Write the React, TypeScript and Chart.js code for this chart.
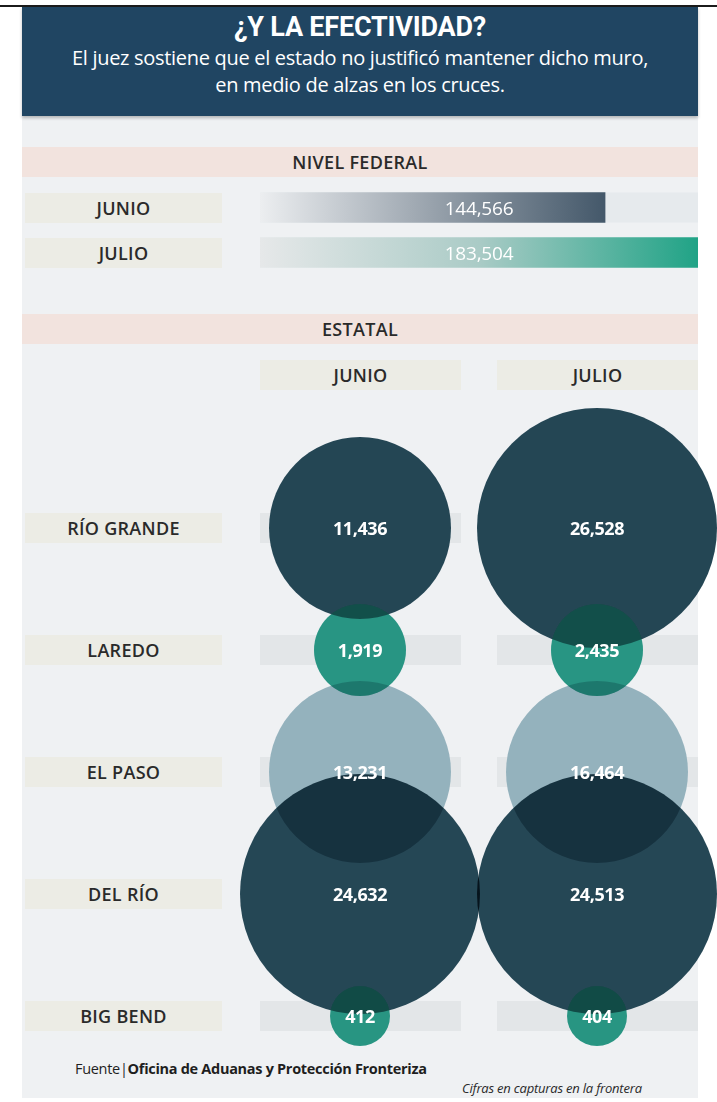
import React, { useEffect, useRef, useState } from "react";
import { Chart, registerables } from "chart.js";

Chart.register(...registerables);

// ---------- data ----------
const federalMonths: string[] = ["JUNIO", "JULIO"];
const federalValues: number[] = [144566, 183504];

const stateMonths: string[] = ["JUNIO", "JULIO"];
const ports: string[] = ["RÍO GRANDE", "LAREDO", "EL PASO", "DEL RÍO", "BIG BEND"];
const junioValues: number[] = [11436, 1919, 13231, 24632, 412];
const julioValues: number[] = [26528, 2435, 16464, 24513, 404];

// ---------- styles ----------
const portColors = ["#244654", "#279583", "#94b2bd", "#254755", "#279583"];
const portTint = [0, 0.35, 0, 0, 0.3]; // re-tint of overlapping areas
const barGradients = [
  ["#eceef0", "#98a2ac", "#44586a"],
  ["#e6e8e9", "#aacbc6", "#20a386"],
];
const FONT = "'Open Sans', 'Noto Sans', sans-serif";
const TITLE_FONT = "Roboto, 'Open Sans', sans-serif";
const fmt = (v: number) => v.toLocaleString("en-US");

// bubble size classes
function bubbleRadius(v: number): number {
  if (v < 1000) return 30;
  if (v < 5000) return 46;
  if (v < 20000) return 91;
  return 120;
}

const W = 717;
const BAR_TOP = 185;
const BAR_H = 90;
const BUB_TOP = 395;
const BUB_H = 660;

type Lbl = { left: number; top: number; text: string };

function Box(props: {
  left: number; top: number; width: number; height: number; bg: string;
  text?: string; size?: number; color?: string; weight?: number;
}) {
  return (
    <div
      style={{
        position: "absolute", left: props.left, top: props.top, width: props.width,
        height: props.height, background: props.bg, lineHeight: props.height + "px",
        textAlign: "center", fontSize: props.size ?? 18, color: props.color ?? "#2a2a2a",
        fontWeight: props.weight ?? 600, letterSpacing: "0.3px", whiteSpace: "nowrap",
      }}
    >
      {props.text}
    </div>
  );
}

export default function App() {
  const barRef = useRef<HTMLCanvasElement>(null);
  const bubRef = useRef<HTMLCanvasElement>(null);
  const [barLabels, setBarLabels] = useState<Lbl[]>([]);
  const [barRows, setBarRows] = useState<number[]>([]);
  const [bubLabels, setBubLabels] = useState<Lbl[]>([]);
  const [rowCenters, setRowCenters] = useState<number[]>([]);
  const [colCenters, setColCenters] = useState<number[]>([]);

  useEffect(() => {
    const trackPlugin = {
      id: "track",
      beforeDatasetsDraw(chart: any) {
        const ctx = chart.ctx;
        const meta = chart.getDatasetMeta(0);
        const a = chart.chartArea;
        ctx.save();
        ctx.fillStyle = "#e6eaed";
        meta.data.forEach((el: any) => {
          ctx.fillRect(a.left, el.y - el.height / 2, a.right - a.left, el.height);
        });
        ctx.restore();
      },
    };

    const barChart = new Chart(barRef.current as HTMLCanvasElement, {
      type: "bar",
      data: {
        labels: federalMonths,
        datasets: [
          {
            data: federalValues,
            barThickness: 30,
            borderWidth: 0,
            backgroundColor: (c: any) => {
              const chart = c.chart;
              if (!chart.chartArea || c.dataIndex === undefined) return "#44586a";
              const xs = chart.scales.x;
              const x0 = xs.getPixelForValue(0);
              const x1 = xs.getPixelForValue(federalValues[c.dataIndex]);
              const g = chart.ctx.createLinearGradient(x0, 0, x1, 0);
              const s = barGradients[c.dataIndex];
              g.addColorStop(0, s[0]);
              g.addColorStop(0.5, s[1]);
              g.addColorStop(1, s[2]);
              return g;
            },
          } as any,
        ],
      },
      options: {
        indexAxis: "y",
        responsive: false,
        animation: false,
        layout: { autoPadding: false, padding: { left: 260, right: W - 698, top: 0, bottom: 0 } },
        scales: {
          x: { display: false, min: 0, max: Math.max(...federalValues) },
          y: { display: false },
        },
        plugins: { legend: { display: false }, tooltip: { enabled: false } },
        events: [],
      } as any,
      plugins: [trackPlugin],
    });

    const bandsPlugin = {
      id: "bands",
      beforeDatasetsDraw(chart: any) {
        chart.ctx.save();
        chart.ctx.globalCompositeOperation = "multiply";
      },
      afterDatasetsDraw(chart: any) {
        const ctx = chart.ctx;
        ctx.restore();
        // lighten overlaps of the teal bubbles
        ctx.save();
        ctx.globalCompositeOperation = "source-atop";
        chart.data.datasets.forEach((_: any, d: number) => {
          const meta = chart.getDatasetMeta(d);
          meta.data.forEach((el: any, i: number) => {
            if (portTint[i] > 0) {
              ctx.globalAlpha = portTint[i];
              el.draw(ctx);
            }
          });
        });
        ctx.restore();
        // category bands behind the bubbles
        const xs = chart.scales.x;
        const ys = chart.scales.y;
        ctx.save();
        ctx.globalCompositeOperation = "destination-over";
        ctx.fillStyle = "#e3e6e8";
        ports.forEach((__, i) => {
          const y = ys.getPixelForValue(i);
          stateMonths.forEach((___, m) => {
            const x = xs.getPixelForValue(m);
            ctx.fillRect(x - 100, y - 15, 201, 30);
          });
        });
        ctx.restore();
      },
    };

    const mk = (vals: number[], m: number) =>
      vals.map((v, i) => ({ x: m, y: i, r: bubbleRadius(v) }));

    const bubbleChart = new Chart(bubRef.current as HTMLCanvasElement, {
      type: "bubble",
      data: {
        datasets: [
          {
            label: stateMonths[0],
            data: mk(junioValues, 0),
            backgroundColor: portColors,
            borderWidth: 0,
            clip: false,
          } as any,
          {
            label: stateMonths[1],
            data: mk(julioValues, 1),
            backgroundColor: portColors,
            borderWidth: 0,
            clip: false,
          } as any,
        ],
      },
      options: {
        responsive: false,
        animation: false,
        layout: {
          autoPadding: false,
          padding: { left: 360, right: W - 597, top: 528 - BUB_TOP, bottom: BUB_TOP + BUB_H - 1016 },
        },
        scales: {
          x: { display: false, min: 0, max: 1 },
          y: { display: false, min: 0, max: ports.length - 1, reverse: true },
        },
        plugins: { legend: { display: false }, tooltip: { enabled: false } },
        events: [],
      } as any,
      plugins: [bandsPlugin],
    });

    const bx: any = barChart.scales.x;
    const by: any = barChart.scales.y;
    setBarRows(federalMonths.map((_, i) => BAR_TOP + by.getPixelForValue(i)));
    setBarLabels(
      federalValues.map((v, i) => ({
        left: (bx.left + bx.right) / 2,
        top: BAR_TOP + by.getPixelForValue(i),
        text: fmt(v),
      }))
    );

    const xs: any = bubbleChart.scales.x;
    const ys: any = bubbleChart.scales.y;
    setRowCenters(ports.map((_, i) => BUB_TOP + ys.getPixelForValue(i)));
    setColCenters(stateMonths.map((_, m) => xs.getPixelForValue(m)));
    const lbls: Lbl[] = [];
    [junioValues, julioValues].forEach((vals, m) => {
      vals.forEach((v, i) => {
        lbls.push({
          left: xs.getPixelForValue(m),
          top: BUB_TOP + ys.getPixelForValue(i),
          text: fmt(v),
        });
      });
    });
    setBubLabels(lbls);

    return () => {
      barChart.destroy();
      bubbleChart.destroy();
    };
  }, []);

  return (
    <div
      style={{
        position: "absolute", left: 0, top: 0, width: W, height: 1102,
        background: "#ffffff", overflow: "hidden", fontFamily: FONT,
      }}
    >
      <div style={{ position: "absolute", left: 0, top: 5, width: W, height: 2, background: "#1b1b1b" }} />
      <div style={{ position: "absolute", left: 22, top: 7, width: 676, height: 1091, background: "#eff1f3" }} />

      {/* header */}
      <div
        style={{
          position: "absolute", left: 22, top: 7, width: 676, height: 109,
          background: "#204562", boxShadow: "0 2px 3px rgba(0,0,0,0.25)", color: "#fff",
          textAlign: "center",
        }}
      >
        <div
          style={{
            position: "absolute", left: 0, right: 0, top: 3, lineHeight: "34px", fontSize: 27,
            fontWeight: 700, letterSpacing: "-0.2px", fontFamily: TITLE_FONT, whiteSpace: "nowrap",
          }}
        >
          ¿Y LA EFECTIVIDAD?
        </div>
        <div
          style={{
            position: "absolute", left: 0, right: 0, top: 37, lineHeight: "27px", fontSize: 20,
            letterSpacing: "-0.3px", whiteSpace: "nowrap",
          }}
        >
          El juez sostiene que el estado no justificó mantener dicho muro,
          <br />
          en medio de alzas en los cruces.
        </div>
      </div>

      {/* federal section */}
      <Box left={22} top={147} width={676} height={30} bg="#f2e3de" text="NIVEL FEDERAL" />
      {barRows.map((y, i) => (
        <Box key={"fm" + i} left={25} top={y - 15} width={197} height={30} bg="#ecece5" text={federalMonths[i]} />
      ))}
      <canvas
        ref={barRef}
        width={W}
        height={BAR_H}
        style={{ position: "absolute", left: 0, top: BAR_TOP, display: "block" }}
      />
      {barLabels.map((l, i) => (
        <div
          key={"bl" + i}
          style={{
            position: "absolute", left: l.left, top: l.top, transform: "translate(-50%,-50%)",
            color: "#ffffff", fontSize: 19, fontWeight: 500, letterSpacing: "-0.2px", whiteSpace: "nowrap",
          }}
        >
          {l.text}
        </div>
      ))}

      {/* state section */}
      <Box left={22} top={314} width={676} height={30} bg="#f2e3de" text="ESTATAL" />
      {colCenters.map((x, m) => (
        <Box key={"cm" + m} left={x - 100} top={360} width={201} height={30} bg="#ecece5" text={stateMonths[m]} />
      ))}
      {rowCenters.map((y, i) => (
        <Box key={"pl" + i} left={25} top={y - 15} width={197} height={30} bg="#ecece5" text={ports[i]} />
      ))}
      <canvas
        ref={bubRef}
        width={W}
        height={BUB_H}
        style={{ position: "absolute", left: 0, top: BUB_TOP, display: "block" }}
      />
      {bubLabels.map((l, i) => (
        <div
          key={"bb" + i}
          style={{
            position: "absolute", left: l.left, top: l.top, transform: "translate(-50%,-50%)",
            color: "#ffffff", fontSize: 18, fontWeight: 700, letterSpacing: "-0.4px", whiteSpace: "nowrap",
          }}
        >
          {l.text}
        </div>
      ))}

      {/* footer */}
      <div
        style={{
          position: "absolute", left: 75, top: 1059, fontSize: 14.5, color: "#1e1e1e",
          letterSpacing: "-0.3px", whiteSpace: "nowrap", lineHeight: "19px",
        }}
      >
        Fuente|<span style={{ fontWeight: 700 }}>Oficina de Aduanas y Protección Fronteriza</span>
      </div>
      <div
        style={{
          position: "absolute", left: 462, top: 1080, fontSize: 13, color: "#2a2a2a",
          fontStyle: "italic", letterSpacing: "-0.2px", whiteSpace: "nowrap", lineHeight: "16px",
        }}
      >
        Cifras en capturas en la frontera
      </div>
    </div>
  );
}
